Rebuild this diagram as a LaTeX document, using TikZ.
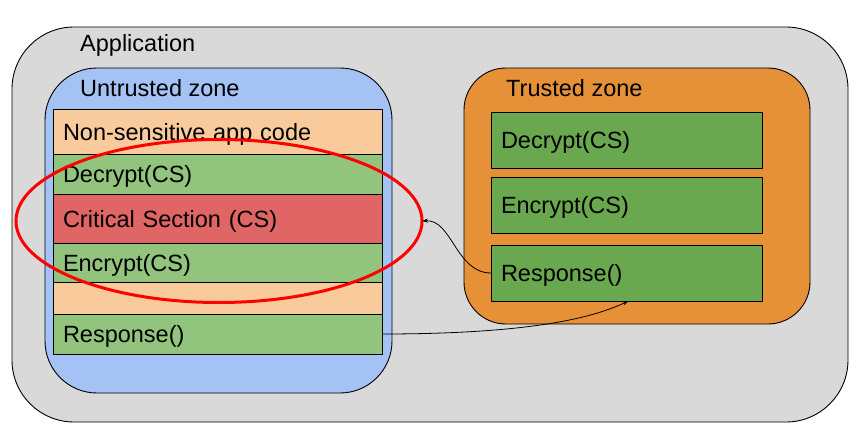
\documentclass[tikz,border=0pt]{standalone}
\usepackage{fontspec}
\setmainfont{Liberation Sans}
\usetikzlibrary{shapes.geometric,arrows.meta}
\definecolor{appgray}{HTML}{D9D9D9}
\definecolor{ublue}{HTML}{A4C2F4}
\definecolor{peach}{HTML}{F9CB9C}
\definecolor{lgreen}{HTML}{93C47D}
\definecolor{csred}{HTML}{E06666}
\definecolor{torange}{HTML}{E69138}
\definecolor{dgreen}{HTML}{6AA84F}
\begin{document}
\begin{tikzpicture}[x=1pt,y=-1pt,
  font=\fontsize{23.5pt}{28pt}\selectfont,
  zone/.style={draw=black, line width=0.9pt, anchor=north west, inner sep=0pt, outer sep=0pt},
  title/.style={anchor=base west, inner sep=0pt},
  cell/.style={draw=black, line width=0.9pt, anchor=north west, align=left, inner xsep=10pt, inner ysep=0pt, outer sep=0pt, text height=17pt, text depth=0pt},
  ucell/.style={cell, text width=309pt},
  tcell/.style={cell, text width=251pt},
  conn/.style={draw=black, line width=0.8pt, -{Stealth[length=6pt,width=4pt]}}
]
\useasboundingbox (0,0) rectangle (864,436);
% application
\node[zone, fill=appgray, rounded corners=62pt, minimum width=836pt, minimum height=395pt] (app) at (12,27) {};
\node[title] (apptitle) at (80,51.7) {Application};
% untrusted zone
\node[zone, fill=ublue, rounded corners=52pt, minimum width=347pt, minimum height=325pt] (untrusted) at (45,68) {};
\node[title] (untitle) at (80,96) {Untrusted zone};
% trusted zone
\node[zone, fill=torange, rounded corners=42pt, minimum width=346pt, minimum height=256pt] (trusted) at (464,68) {};
\node[title] (trtitle) at (506,96) {Trusted zone};
% untrusted cells
\node[ucell, fill=peach, minimum height=45pt] (nonsens) at (53,109) {Non-sensitive app code};
\node[ucell, fill=lgreen, minimum height=40pt] (udec) at (53,154) {Decrypt(CS)};
\node[ucell, fill=csred, minimum height=49pt] (crit) at (53,194) {Critical Section (CS)};
\node[ucell, fill=lgreen, minimum height=39pt] (uenc) at (53,243) {Encrypt(CS)};
\node[ucell, fill=peach, minimum height=32pt] (empty) at (53,282) {};
\node[ucell, fill=lgreen, minimum height=40pt] (uresp) at (53,314) {Response()};
% trusted cells
\node[tcell, fill=dgreen, minimum height=56pt] (tdec) at (491,112) {Decrypt(CS)};
\node[tcell, fill=dgreen, minimum height=56pt] (tenc) at (491,177) {Encrypt(CS)};
\node[tcell, fill=dgreen, minimum height=56pt] (tresp) at (491,245) {Response()};
% red ellipse
\node[ellipse, draw=red, line width=3pt, minimum width=406pt, minimum height=163pt, inner sep=0pt, outer sep=0pt] (cs) at (219,221) {};
% connectors
\draw[conn] (tresp.west) .. controls +(-35,0) and +(30,-2) .. (cs.east);
\draw[conn] (uresp.east) .. controls +(160,0) and +(-30,14) .. ([xshift=2pt]tresp.south);
\end{tikzpicture}
\end{document}
